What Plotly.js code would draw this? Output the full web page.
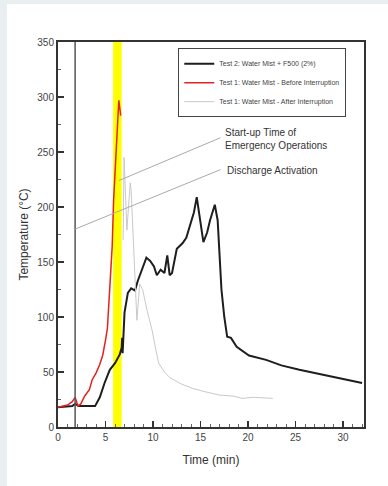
<!DOCTYPE html>
<html>
<head>
<meta charset="utf-8">
<script src="https://cdn.plot.ly/plotly-3.0.1.min.js"></script>
<style>
html,body{margin:0;padding:0;background:#e9eef0;width:388px;height:486px;overflow:hidden;}
#chart{position:absolute;left:7px;top:4px;width:381px;height:482px;background:#fff;}
</style>
</head>
<body>
<div id="chart"></div>
<script>
// Test 1: Water Mist - Before Interruption (red)
const redTime = [0, 1.0, 1.5, 1.8, 2.1, 2.4, 2.8, 3.3, 3.6, 4.0, 4.4, 4.7, 5.0, 5.2, 5.5, 5.7, 5.85, 6.0, 6.15, 6.3, 6.4, 6.5, 6.6];
const redTemp = [18, 20, 23, 27, 19, 21, 28, 34, 43, 49, 57, 65, 79, 90, 134, 164, 206, 230, 250, 276, 297, 290, 283];

// Test 2: Water Mist + F500 (2%) (black)
const blackTime = [0, 1.5, 1.8, 2.2, 3.0, 3.9, 4.4, 4.9, 5.45, 6.0, 6.5, 6.7, 6.75, 6.8, 7.0, 7.35, 7.7, 8.1, 8.4, 8.9, 9.3, 9.7, 10.1, 10.4, 10.8, 11.2, 11.5, 11.75, 12.0, 12.5, 13.1, 13.5, 13.85, 14.3, 14.6, 14.9, 15.3, 15.7, 16.0, 16.5, 16.8, 17.2, 17.5, 17.8, 18.2, 18.8, 20.1, 21.9, 23.5, 25.4, 28.2, 30, 32];
const blackTemp = [18, 19, 21, 19, 19, 19, 27, 40, 52, 58, 66, 72, 81, 67, 104, 122, 126, 124, 133, 145, 154, 151, 146, 138, 143, 140, 156, 138, 140, 162, 167, 172, 182, 195, 209, 191, 168, 177, 188, 202, 188, 125, 100, 82, 81, 73, 65, 61, 56, 52, 47, 44, 40];

// Test 1: Water Mist - After Interruption (light grey)
const greyTime = [6.85, 6.95, 7.25, 7.6, 7.7, 8.0, 8.3, 8.6, 8.9, 9.4, 9.9, 10.3, 10.6, 11.2, 11.75, 13, 14.2, 15.5, 17, 18.5, 19.4, 20.5, 22.6];
const greyTemp = [170, 245, 179, 222, 215, 150, 97, 130, 125, 105, 88, 70, 58, 50, 45, 39, 35, 32, 29, 28, 26, 27, 26];

const seriesNames = ["Test 2: Water Mist + F500 (2%)", "Test 1: Water Mist - Before Interruption", "Test 1: Water Mist - After Interruption"];

// Event markers
const interruptionTime = 1.8;
const yellowBand = [5.8, 6.7];

// Annotation leader lines [x0, y0, x1, y1]
const startupLine = [6.4, 224, 17.1, 263];
const dischargeLine = [1.82, 180, 17.1, 234];
const startupLabel = "Start-up Time of<br>Emergency Operations";
const dischargeLabel = "Discharge Activation";
const startupLabelPos = [17.4, 262];
const dischargeLabelPos = [17.55, 233];

const xTickVals = [0, 5, 10, 15, 20, 25, 30];
const yTickVals = [0, 50, 100, 150, 200, 250, 300, 350];

const traces = [
  {x: blackTime, y: blackTemp, name: seriesNames[0], mode: "lines", line: {color: "#1e1e1e", width: 2}},
  {x: redTime, y: redTemp, name: seriesNames[1], mode: "lines", line: {color: "#e3231f", width: 1.5}},
  {x: greyTime, y: greyTemp, name: seriesNames[2], mode: "lines", line: {color: "#c9c9c9", width: 1}}
];

const axisFont = {family: "Liberation Sans, Arial, sans-serif", size: 10, color: "#444"};

const layout = {
  width: 381, height: 482,
  margin: {l: 51, r: 24, t: 38, b: 59},
  paper_bgcolor: "#fff", plot_bgcolor: "#fff",
  showlegend: true,
  legend: {
    x: 0.393, y: 0.984, xanchor: "left", yanchor: "top",
    bgcolor: "#fff", bordercolor: "#444", borderwidth: 1,
    font: {family: "Liberation Sans, Arial, sans-serif", size: 7, color: "#444"},
    tracegroupgap: 0
  },
  xaxis: {
    range: [0, 32.2], tickvals: xTickVals, ticks: "inside", ticklen: 6, tickwidth: 1.5, tickcolor: "#333",
    minor: {dtick: 1, ticks: "inside", ticklen: 3, tickcolor: "#666", tickwidth: 1},
    showline: true, linecolor: "#333", linewidth: 2, mirror: true, showgrid: false, zeroline: false,
    tickfont: axisFont,
    title: {text: "Time (min)", font: {family: "Liberation Sans, Arial, sans-serif", size: 12, color: "#333"}, standoff: 14}
  },
  yaxis: {
    range: [0, 350], tickvals: yTickVals, ticks: "inside", ticklen: 6, tickwidth: 1.5, tickcolor: "#333",
    minor: {dtick: 25, ticks: "inside", ticklen: 3, tickcolor: "#666", tickwidth: 1},
    showline: true, linecolor: "#333", linewidth: 2, mirror: true, showgrid: false, zeroline: false,
    tickfont: axisFont,
    title: {text: "Temperature (°C)", font: {family: "Liberation Sans, Arial, sans-serif", size: 12, color: "#333"}, standoff: 6}
  },
  shapes: [
    {type: "rect", xref: "x", yref: "paper", x0: yellowBand[0], x1: yellowBand[1], y0: 0, y1: 1, fillcolor: "#ffff00", line: {width: 0}, layer: "below"},
    {type: "line", xref: "x", yref: "paper", x0: interruptionTime, x1: interruptionTime, y0: 0, y1: 1, line: {color: "#555", width: 1.5}},
    {type: "line", xref: "x", yref: "y", x0: startupLine[0], y0: startupLine[1], x1: startupLine[2], y1: startupLine[3], line: {color: "#aaa", width: 1}},
    {type: "line", xref: "x", yref: "y", x0: dischargeLine[0], y0: dischargeLine[1], x1: dischargeLine[2], y1: dischargeLine[3], line: {color: "#aaa", width: 1}}
  ],
  annotations: [
    {x: startupLabelPos[0], y: startupLabelPos[1], xref: "x", yref: "y", text: startupLabel, showarrow: false, xanchor: "left", yanchor: "middle", align: "left",
     font: {family: "Liberation Sans, Arial, sans-serif", size: 10, color: "#333"}},
    {x: dischargeLabelPos[0], y: dischargeLabelPos[1], xref: "x", yref: "y", text: dischargeLabel, showarrow: false, xanchor: "left", yanchor: "middle", align: "left",
     font: {family: "Liberation Sans, Arial, sans-serif", size: 10, color: "#333"}}
  ]
};

Plotly.newPlot("chart", traces, layout, {displayModeBar: false, staticPlot: true});
</script>
</body>
</html>
